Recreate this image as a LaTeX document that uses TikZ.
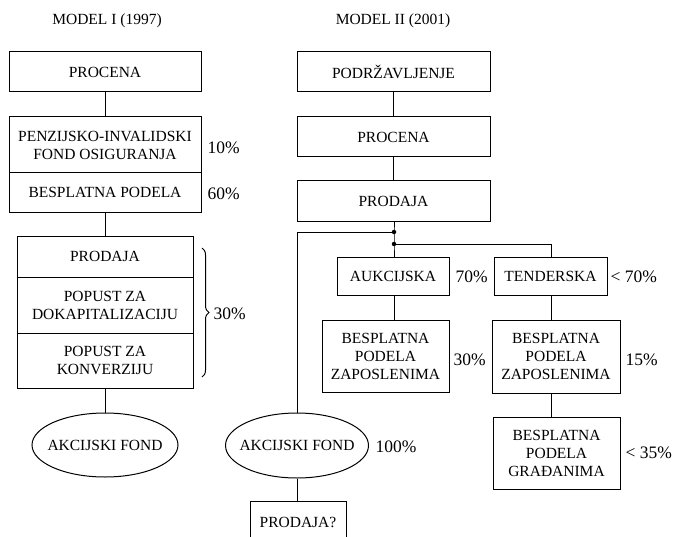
\documentclass[tikz,border=0pt]{standalone}
\usepackage{fontspec}
\setmainfont{Liberation Serif}
\usetikzlibrary{shapes.geometric,decorations.pathreplacing}
\begin{document}
\begin{tikzpicture}[x=1pt,y=-1pt,line width=1pt,
  box/.style={draw,rectangle,align=center,inner sep=0pt,font=\fontsize{15.5}{18}\selectfont},
  oval/.style={draw,ellipse,inner xsep=-12pt,inner ysep=0pt,font=\fontsize{15.5}{18}\selectfont},
  pct/.style={anchor=west,inner sep=0pt,font=\fontsize{17.5}{20}\selectfont},
  ttl/.style={inner sep=0pt,font=\fontsize{15.5}{18}\selectfont},
  dotc/.style={circle,fill,inner sep=0pt,minimum size=4.5pt}]
\clip (0,0) rectangle (676,537);
\fill[white] (0,0) rectangle (676,537);
% titles
\node[ttl] (t1) at (107,21) {MODEL I (1997)};
\node[ttl] (t2) at (393,21) {MODEL II (2001)};
% left column
\node[box,minimum width=192pt,minimum height=40pt] (procL) at (105,72) {PROCENA};
\node[box,minimum width=192pt,minimum height=56pt] (penz) at (105,145) {PENZIJSKO-INVALIDSKI\\FOND OSIGURANJA};
\node[box,minimum width=192pt,minimum height=39pt] (bespL) at (105,192.5) {BESPLATNA PODELA};
\node[box,minimum width=176pt,minimum height=41pt] (prodL) at (105,256.5) {PRODAJA};
\node[box,minimum width=176pt,minimum height=56pt] (popD) at (105,305) {POPUST ZA\\DOKAPITALIZACIJU};
\node[box,minimum width=176pt,minimum height=55pt] (popK) at (105,360.5) {POPUST ZA\\KONVERZIJU};
\node[oval,minimum width=146pt,minimum height=64pt] (fondL) at (105,445) {AKCIJSKI FOND};
\draw (procL) -- (penz);
\draw (bespL) -- (prodL);
\draw (popK) -- (fondL);
\draw[decorate,decoration={brace,amplitude=7pt}] (202,248) -- (202,377);
\node[pct] (p30L) at (213,314) {30\%};
\node[pct] (p10) at (207,148) {10\%};
\node[pct] (p60) at (207,194) {60\%};
% right column
\node[box,minimum width=193pt,minimum height=40pt] (podr) at (393.5,72) {PODRŽAVLJENJE};
\node[box,minimum width=193pt,minimum height=40pt] (procR) at (393.5,137) {PROCENA};
\node[box,minimum width=193pt,minimum height=40pt] (prodR) at (393.5,201) {PRODAJA};
\draw (podr) -- (procR);
\draw (procR) -- (prodR);
\node[dotc] (d1) at (394,232) {};
\node[dotc] (d2) at (394,244) {};
\node[box,minimum width=112pt,minimum height=38pt] (auk) at (393,276) {AUKCIJSKA};
\node[box,minimum width=113pt,minimum height=38pt] (tend) at (550.5,276) {TENDERSKA};
\node[box,minimum width=127pt,minimum height=72pt] (bes1) at (385.5,356) {BESPLATNA\\PODELA\\ZAPOSLENIMA};
\node[box,minimum width=128pt,minimum height=73pt] (bes2) at (556,356.5) {BESPLATNA\\PODELA\\ZAPOSLENIMA};
\node[box,minimum width=127pt,minimum height=72pt] (bes3) at (556.5,453) {BESPLATNA\\PODELA\\GRAĐANIMA};
\node[oval,minimum width=143pt,minimum height=65pt] (fondR) at (297,445.5) {AKCIJSKI FOND};
\node[box,minimum width=96pt,minimum height=44pt] (prodQ) at (298,523) {};
\node[ttl] (prodQt) at (298,522) {PRODAJA?};
\coordinate (c1) at (551,244);
\draw (prodR.south -| d1) -- (d1.center) -- (d2.center) -- (auk.north -| d1);
\draw (d1.center) -| (fondR.north);
\draw (d2.center) -- (c1) -- (tend.north -| c1);
\draw (auk.south -| d1) -- (bes1.north -| d1);
\draw (tend.south -| c1) -- (bes2.north -| c1);
\draw (bes2.south -| c1) -- (bes3.north -| c1);
\draw (fondR.south) -- (prodQ.north -| fondR.south);
\node[pct] (p70) at (455,277) {70\%};
\node[pct] (p70b) at (610,277) {< 70\%};
\node[pct] (p30R) at (453,360) {30\%};
\node[pct] (p15) at (625,360) {15\%};
\node[pct] (p100) at (375,447) {100\%};
\node[pct] (p35) at (625,453) {< 35\%};
\end{tikzpicture}
\end{document}
